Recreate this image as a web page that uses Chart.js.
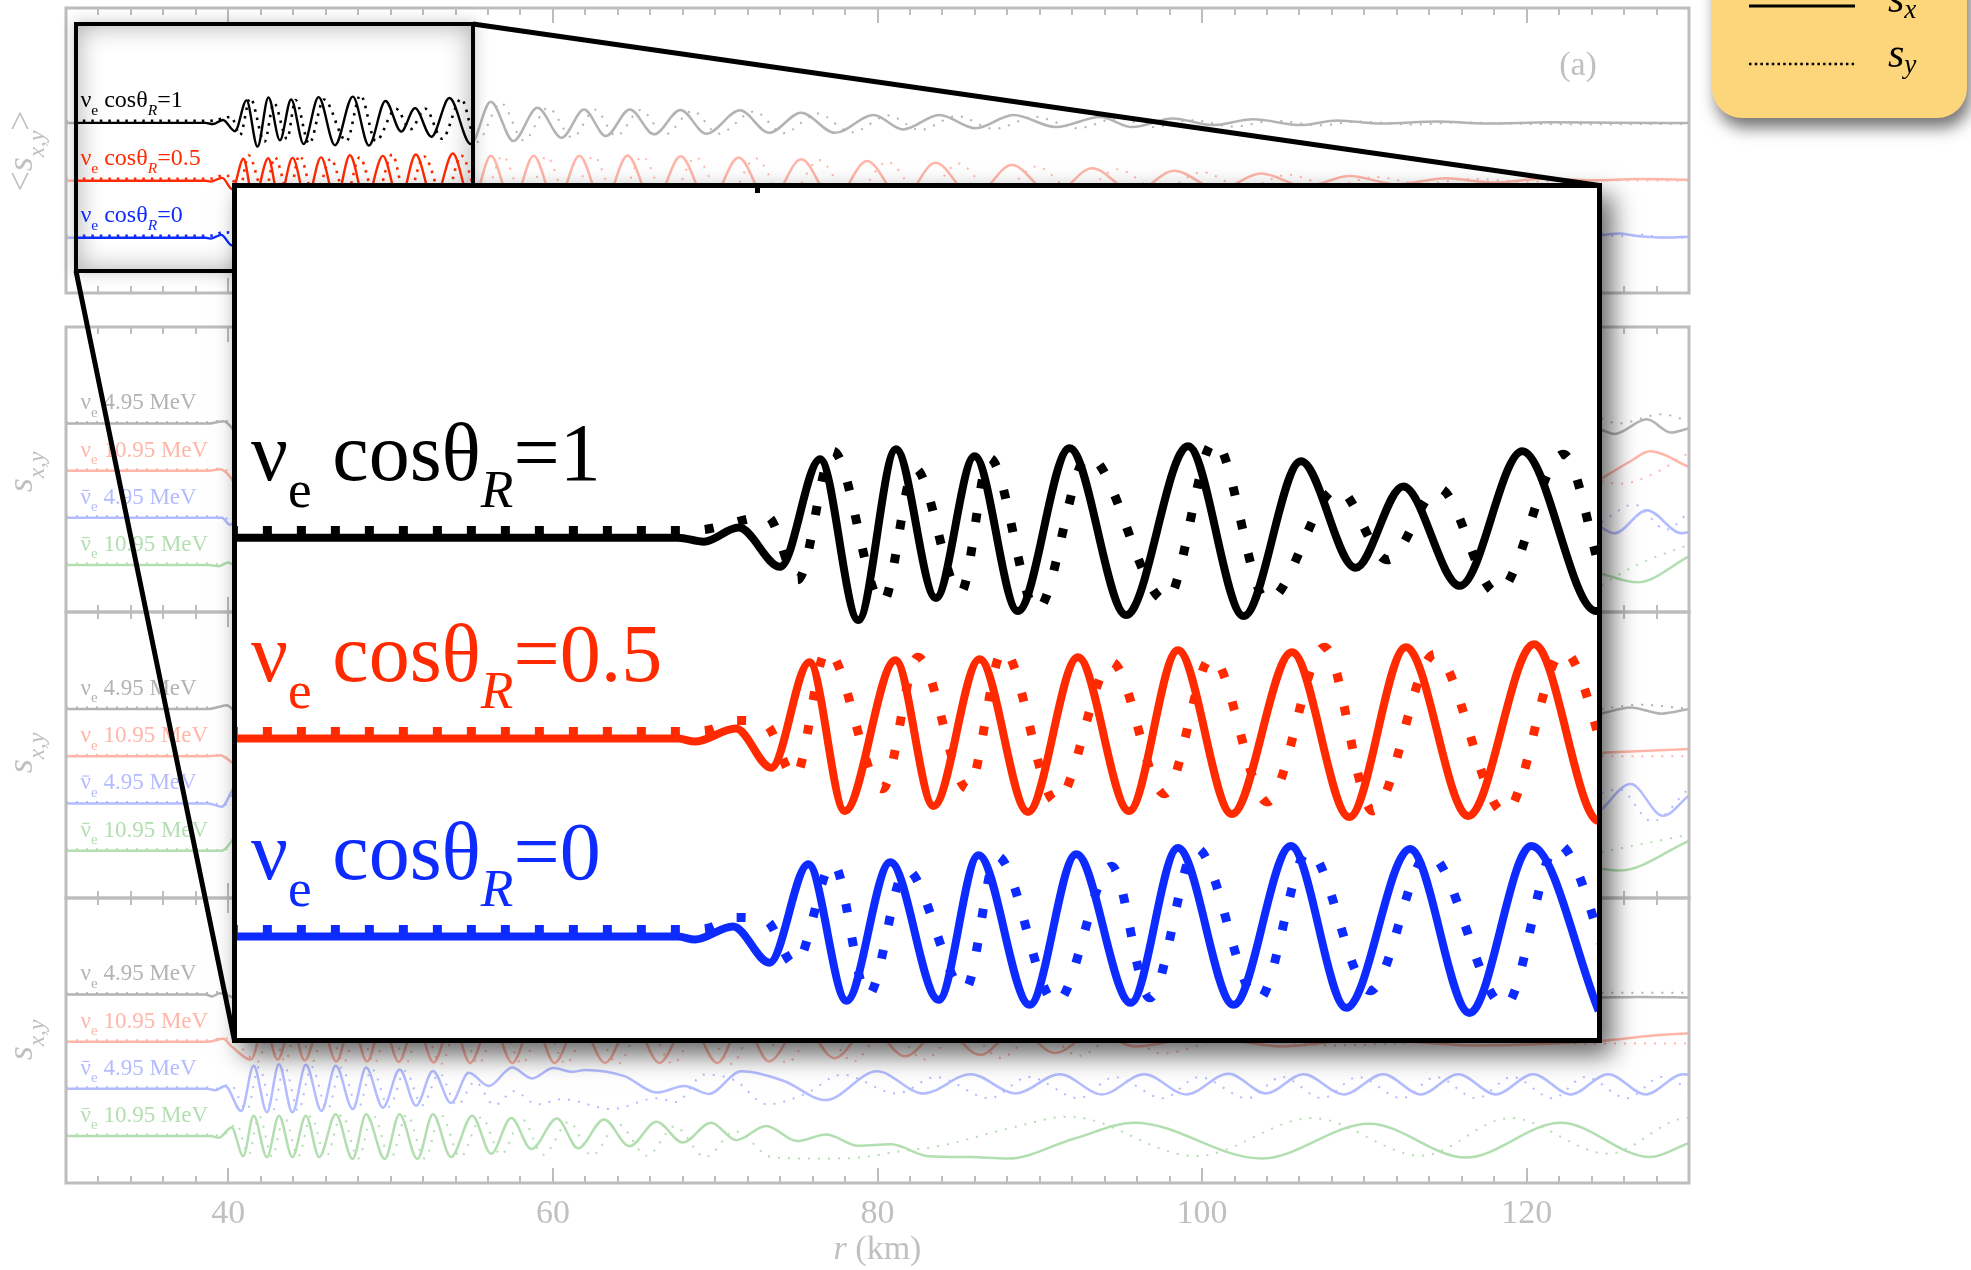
<!DOCTYPE html>
<html lang="en">
<head>
<meta charset="utf-8">
<title>Spin components along r</title>
<script src="https://cdn.jsdelivr.net/npm/chart.js@4.4.1/dist/chart.umd.min.js"></script>
<style>
  html, body { margin: 0; padding: 0; background: #fff; }
  body { position: relative; width: 1971px; height: 1270px; overflow: hidden; }
  canvas { position: absolute; left: 0; top: 0; }
  .layer { position: absolute; }
  #zoomBox { border: 4px solid #000; background: #fff; box-shadow: 0 0 14px rgba(0,0,0,0.22), inset 0 0 26px rgba(0,0,0,0.32); z-index: 2; }
  #inset { left: 232px; top: 183px; width: 1360px; height: 850px; border: 5px solid #000; background: #fff; box-shadow: 10px 12px 24px rgba(0,0,0,0.6); z-index: 4; }
  #key { left: 1712px; top: -80px; width: 255px; height: 198px; border-radius: 30px; background: #fdd57b; box-shadow: 4px 10px 16px rgba(0,0,0,0.55); z-index: 5; }
</style>
</head>
<body>
<div id="zoomBox" class="layer"></div>
<div id="inset" class="layer"></div>
<div id="key" class="layer"></div>

<script>
// ---- axes ----
const rRange = [30, 130];
const rTicks = [40, 60, 80, 100, 120];
const zoomR = [30.75, 54.96];     // r window that gets magnified
const zoomV = [-4.98, 3.48];      // its vertical window in the inset
const boxV = [-5.05, 3.35];       // the same window drawn inside panel (a)

// ---- panel (a): s_x / s_y for the three cos(theta_R) rows, pairs of [r, s] ----
const cosValues = ['1', '0.5', '0'];
const cosOffsets = [0, -2, -3.97];

const cos1Sx = [[30,0],[38.6,0],[39.06,-0.04],[39.68,0.10],[40.42,-0.29],[41.13,0.78],[41.81,-0.82],[42.48,0.88],[43.19,-0.60],[43.88,0.81],[44.65,-0.73],[45.57,0.89],[46.58,-0.77],[47.68,0.91],[48.67,-0.78],[49.69,0.76],[50.66,-0.30],[51.51,0.51],[52.52,-0.48],[53.63,0.86],[54.94,-0.73],[56.17,0.74],[57.56,-0.62],[59.05,0.53],[60.54,-0.51],[61.92,0.47],[63.26,-0.45],[64.74,0.47],[66.23,-0.39],[67.86,0.45],[69.45,-0.37],[71.53,0.44],[73.32,-0.34],[75.29,0.36],[77.38,-0.34],[79.75,0.28],[81.58,-0.22],[83.81,0.28],[86.04,-0.18],[88.37,0.28],[91.0,-0.14],[93.72,0.21],[95.7,-0.14],[98.18,0.16],[100.65,-0.07],[103.13,0.13],[106.1,-0.07],[108.33,0.09],[111.05,-0.02],[114.52,0.05],[117.49,-0.02],[121.45,0.03],[125.41,0.01],[130,0]];
const cos1Sy = [[30,0.07],[38.6,0.07],[39.06,0.08],[40.19,0.21],[40.73,-0.42],[41.36,0.86],[42.24,-0.65],[42.82,0.69],[43.63,-0.55],[44.15,0.79],[44.99,-0.72],[45.9,0.81],[47.29,-0.63],[48.15,0.96],[49.09,-0.63],[50.34,0.49],[51.23,-0.22],[52.15,0.49],[53.18,-0.55],[54.36,0.83],[55.3,-0.66],[56.8,0.70],[58.2,-0.60],[59.7,0.53],[61.2,-0.50],[62.6,0.46],[63.9,-0.45],[65.4,0.45],[66.9,-0.40],[68.6,0.42],[70.2,-0.37],[72.4,0.40],[74.2,-0.35],[76.3,0.33],[78.4,-0.32],[80.7,0.26],[82.6,-0.24],[84.9,0.24],[87.2,-0.20],[89.7,0.22],[92.3,-0.18],[94.8,0.16],[97.0,-0.14],[99.4,0.10],[101.9,-0.12],[104.5,0.08],[107.3,-0.08],[109.6,0.05],[113,-0.05],[116,0.02],[120,-0.03],[124,-0.04],[130,-0.03]];

const cos05Sx = [[30,0],[38.6,0],[38.9,-0.03],[39.63,0.10],[40.26,-0.29],[40.94,0.76],[41.57,-0.72],[42.47,0.78],[43.15,-0.67],[43.97,0.79],[44.83,-0.73],[45.72,0.81],[46.63,-0.72],[47.5,0.88],[48.46,-0.75],[49.53,0.86],[50.55,-0.78],[51.56,0.91],[52.67,-0.77],[53.84,0.94],[54.99,-0.82],[56.18,0.87],[57.5,-0.85],[58.81,0.87],[60.2,-0.85],[61.63,0.87],[63.1,-0.85],[64.6,0.88],[66.2,-0.85],[67.87,0.85],[69.6,-0.82],[71.44,0.81],[73.3,-0.78],[75.3,0.75],[77.3,-0.70],[79.36,0.69],[81.5,-0.65],[83.57,0.63],[85.9,-0.58],[88.28,0.55],[90.8,-0.50],[93.23,0.44],[95.8,-0.40],[98.28,0.35],[101.0,-0.30],[103.63,0.25],[106.4,-0.20],[109.08,0.17],[112.0,-0.12],[115.02,0.09],[118.0,-0.06],[120.97,0.07],[124.0,0.02],[126.9,0.06],[130,0.04]];
const cos05Sy = [[30,0.07],[38.6,0.07],[39.1,0.08],[39.65,0.18],[40.15,0.15],[40.68,-0.38],[41.25,0.88],[42.24,-0.50],[42.87,0.81],[43.76,-0.50],[44.39,0.88],[45.33,-0.63],[46.32,0.76],[47.26,-0.55],[48.1,0.81],[49.09,-0.63],[50.11,0.91],[50.97,-0.72],[52.07,0.84],[53.32,-0.74],[54.36,0.87],[55.6,-0.80],[56.9,0.87],[58.3,-0.82],[59.6,0.85],[61.0,-0.82],[62.5,0.86],[64.0,-0.82],[65.5,0.85],[67.1,-0.80],[68.8,0.82],[70.6,-0.78],[72.5,0.78],[74.4,-0.74],[76.4,0.72],[78.4,-0.66],[80.6,0.66],[82.8,-0.60],[85.0,0.60],[87.3,-0.54],[89.8,0.50],[92.3,-0.45],[94.8,0.40],[97.4,-0.35],[100.0,0.30],[102.6,-0.25],[105.3,0.21],[108.0,-0.17],[110.7,0.13],[113.6,-0.10],[116.5,0.07],[120.0,-0.03],[124.0,0.02],[130,0]];

const cos0Sx = [[30,0],[38.6,0],[38.9,-0.03],[39.58,0.10],[40.23,-0.26],[40.92,0.72],[41.6,-0.64],[42.38,0.74],[43.24,-0.63],[43.95,0.81],[44.86,-0.68],[45.69,0.82],[46.66,-0.66],[47.5,0.88],[48.49,-0.68],[49.51,0.90],[50.5,-0.71],[51.63,0.87],[52.69,-0.76],[53.79,0.90],[54.99,-0.74],[57,null],[124.6,0.09],[125.75,0.15],[126.55,0.08],[128.6,0.01],[130,0.04]];
const cos0Sy = [[30,0.07],[38.6,0.07],[39.1,0.08],[39.63,0.19],[40.15,0.17],[40.68,-0.28],[41.36,0.73],[41.98,-0.59],[42.66,0.67],[43.71,-0.53],[44.28,0.80],[45.33,-0.66],[46.32,0.70],[47.0,-0.61],[47.83,0.88],[48.93,-0.63],[49.82,0.85],[50.92,-0.54],[51.96,0.82],[53.32,-0.69],[54.26,0.92],[55.3,-0.50],[57,null],[124.6,0.13],[125.6,0.05],[126.9,0.12],[128.5,0.0],[130,0.02]];

// ---- panels (b)-(d): four species each ----
const energyLabels = ['4.95', '10.95', '4.95', '10.95'];
const antiFlags = [false, false, true, true];
const speciesOffsets = [0, -1, -2, -3];

const bNue5Sx  = [[30,0],[38.8,0],[39.3,0.03],[39.7,0.05],[40.2,-0.08],[40.6,-0.30],[41,null],[124.6,-0.13],[125.4,-0.22],[127.4,0.09],[128.9,-0.19],[130,-0.10]];
const bNue5Sy  = [[30,0.03],[38.8,0.03],[39.6,0.06],[40.3,0.0],[40.7,-0.20],[41,null],[124.6,0.11],[125.65,0.0],[128.3,0.20],[130,0.05]];
const bNue11Sx = [[30,0],[38.8,0],[39.5,0.03],[40.1,-0.12],[40.5,-0.35],[41,null],[124.6,-0.17],[126.4,0.20],[127.6,0.41],[130,0.08]];
const bNue11Sy = [[30,0.03],[38.8,0.03],[39.6,0.05],[40.2,-0.10],[40.6,-0.30],[41,null],[124.6,-0.23],[125.8,-0.28],[127.6,-0.10],[130,0.38]];
const bBar5Sx  = [[30,0],[38.8,0],[39.6,0.0],[40.1,-0.15],[40.6,0.05],[41,null],[124.6,-0.21],[125.4,-0.33],[127.4,0.16],[129.55,-0.33],[130,-0.30]];
const bBar5Sy  = [[30,0.03],[38.8,0.03],[39.7,0.02],[40.3,-0.12],[40.7,0.10],[41,null],[124.6,-0.09],[126.6,0.28],[128.6,-0.25],[130,0.12]];
const bBar11Sx = [[30,0],[38.8,0],[39.4,-0.03],[40.0,0.05],[40.5,-0.05],[41,null],[124.6,-0.19],[126.8,-0.37],[130,0.18]];
const bBar11Sy = [[30,0.03],[38.8,0.03],[39.6,0.0],[40.2,0.08],[40.6,-0.05],[41,null],[124.6,-0.43],[126.8,0.0],[130,0.43]];

const cNue5Sx  = [[30,0],[38.8,0],[39.4,0.04],[39.9,0.08],[40.4,-0.05],[41,null],[124.6,-0.10],[126.4,0.03],[128.3,-0.10],[130,0.0]];
const cNue5Sy  = [[30,0.03],[38.8,0.03],[39.6,0.06],[40.3,0.10],[41,null],[124.6,0.0],[127.0,0.09],[130,0.0]];
const cNue11Sx = [[30,0],[38.8,0],[39.5,0.02],[40.1,-0.10],[40.5,-0.20],[41,null],[124.6,0.07],[130,0.15]];
const cNue11Sy = [[30,0.03],[38.8,0.03],[39.7,0.0],[40.3,-0.10],[41,null],[124.6,0.0],[130,0.0]];
const cBar5Sx  = [[30,0],[38.8,0],[39.6,-0.07],[40.2,0.25],[40.6,0.50],[41,null],[124.6,-0.13],[126.4,0.41],[128.4,-0.26],[130,0.17]];
const cBar5Sy  = [[30,0.03],[38.8,0.03],[39.7,-0.05],[40.4,0.30],[41,null],[124.6,0.23],[125.7,0.30],[127.7,-0.38],[130,0.32]];
const cBar11Sx = [[30,0],[38.8,0],[39.6,0.0],[40.2,0.20],[40.6,0.40],[41,null],[124.6,-0.38],[125.7,-0.42],[130,0.21]];
const cBar11Sy = [[30,0.03],[38.8,0.03],[39.7,0.0],[40.4,0.25],[41,null],[124.6,-0.03],[130,0.34]];

const dNue5Sx  = [[30,0],[38.6,0],[39.0,-0.04],[39.5,0.03],[40.0,-0.02],[40.5,-0.10],[41,null],[124.6,-0.06],[127,-0.05],[130,-0.06]];
const dNue5Sy  = [[30,0.03],[38.6,0.03],[39.6,0.06],[40.2,0.0],[41,null],[124.6,0.04],[130,0.04]];
const dNue11Sx = [[30,0],[38.8,0],[39.68,0.06],[40.2,-0.10],[41.4,-0.38],[42.2,0.38],[43.05,-0.38],[43.9,0.38],[44.7,-0.40],[45.7,0.40],[46.65,-0.42],[47.6,0.42],[48.55,-0.42],[49.5,0.42],[50.5,-0.43],[51.55,0.43],[52.65,-0.44],[53.8,0.44],[54.9,-0.45],[56.2,0.45],[57.5,-0.45],[58.8,0.45],[60.1,-0.45],[61.6,0.45],[63.21,-0.45],[64.9,0.45],[66.56,-0.45],[68.35,0.45],[70.14,-0.45],[71.7,0.42],[73.32,-0.42],[75.3,0.38],[77.36,-0.35],[79.5,0.32],[81.69,-0.31],[84.0,0.28],[86.32,-0.28],[88.6,0.26],[90.94,-0.24],[93.4,0.20],[95.85,-0.10],[100,0.10],[105,-0.10],[110,0.05],[117,-0.08],[124.6,0.02],[127.5,0.12],[130,0.18]];
const dNue11Sy = [[30,0.03],[38.8,0.03],[39.6,0.08],[40.4,0.0],[41.85,-0.42],[42.6,0.40],[43.5,-0.42],[44.3,0.40],[45.15,-0.44],[46.1,0.42],[47.1,-0.45],[48.0,0.42],[49.0,-0.46],[49.9,0.42],[50.95,-0.46],[51.9,0.42],[53.1,-0.47],[54.2,0.44],[55.4,-0.47],[56.7,0.45],[58.1,-0.47],[59.4,0.45],[60.8,-0.47],[62.3,0.45],[64.0,-0.47],[65.6,0.45],[67.4,-0.47],[69.1,0.44],[71.0,-0.47],[72.6,0.42],[74.4,-0.45],[76.4,0.38],[78.5,-0.42],[80.6,0.34],[82.9,-0.38],[85.2,0.30],[87.6,-0.34],[90.0,0.26],[92.4,-0.30],[95,0.20],[97.5,-0.25],[102,0.10],[108,-0.08],[115,0.0],[124.6,-0.04],[130,-0.04]];
const dBar5Sx  = [[30,0],[38.7,0],[39.2,-0.03],[39.8,0.06],[40.8,-0.47],[41.56,0.49],[42.38,-0.50],[43.12,0.52],[43.95,-0.50],[44.78,0.51],[45.74,-0.47],[46.62,0.49],[47.67,-0.43],[48.49,0.45],[49.53,-0.40],[50.56,0.41],[51.57,-0.36],[52.61,0.38],[53.72,-0.30],[54.82,0.34],[56.05,0.06],[57.5,0.45],[58.7,0.22],[60.03,0.44],[61.2,0.36],[62.0,0.40],[64.4,0.27],[66.4,-0.08],[68.1,0.06],[69.6,-0.11],[71.6,0.37],[74.2,0.17],[76.8,-0.24],[79.96,0.37],[82.85,-0.10],[85.74,0.31],[88.51,-0.10],[91.23,0.31],[93.83,-0.12],[96.43,0.31],[99.03,-0.12],[101.63,0.32],[103.94,-0.10],[106.25,0.31],[108.73,-0.12],[111.16,0.31],[113.47,-0.12],[115.78,0.31],[118.09,-0.12],[120.4,0.31],[122.71,-0.12],[125.02,0.31],[127.33,-0.12],[129.64,0.31],[130,0.30]];
const dBar5Sy  = [[30,0.03],[38.7,0.03],[39.4,0.0],[40.1,0.10],[41.15,-0.45],[41.9,0.46],[42.73,-0.47],[43.47,0.48],[44.3,-0.47],[45.13,0.47],[46.1,-0.44],[46.97,0.45],[48.0,-0.41],[48.85,0.42],[49.9,-0.38],[50.9,0.38],[51.95,-0.35],[53.0,0.33],[54.1,-0.35],[55.2,0.15],[56.4,-0.35],[57.6,-0.05],[59.0,-0.33],[60.6,-0.22],[63.6,-0.43],[66.4,-0.20],[67.6,-0.28],[69.3,0.30],[71.2,0.18],[73.2,-0.33],[75.6,-0.10],[77.8,0.30],[81.2,-0.10],[83.6,0.25],[86.9,-0.20],[89.3,0.25],[92.4,-0.20],[94.6,0.25],[97.6,-0.20],[99.8,0.25],[102.8,-0.20],[104.9,0.25],[107.4,-0.20],[109.6,0.25],[112.3,-0.20],[114.4,0.25],[116.9,-0.20],[119.1,0.25],[121.6,-0.20],[123.6,0.25],[126.2,-0.20],[128.3,0.25],[130,0.0]];
const dBar11Sx = [[30,0],[38.9,0],[39.41,-0.04],[40.2,0.18],[40.92,-0.43],[41.56,0.43],[42.38,-0.45],[43.12,0.43],[43.95,-0.45],[44.78,0.43],[45.6,-0.45],[46.62,0.46],[47.66,-0.49],[48.49,0.46],[49.64,-0.49],[50.55,0.46],[51.65,-0.49],[52.61,0.46],[53.72,-0.45],[55.03,0.43],[56.19,-0.38],[57.43,0.38],[58.67,-0.28],[60.25,0.37],[61.55,-0.26],[63.15,0.35],[64.72,-0.22],[66.38,0.30],[68.0,-0.14],[69.74,0.28],[71.3,-0.09],[73.14,0.21],[75.05,-0.11],[76.84,0.03],[78.81,-0.21],[80.83,-0.18],[83.14,-0.43],[85.74,-0.45],[88.05,-0.48],[92.1,-0.06],[95.85,0.28],[103.65,-0.48],[110.3,0.26],[116.25,-0.46],[122.1,0.28],[127.6,-0.45],[130,-0.15]];
const dBar11Sy = [[30,0.03],[38.9,0.03],[39.6,0.0],[40.5,0.25],[41.25,-0.40],[41.9,0.42],[42.7,-0.44],[43.45,0.42],[44.3,-0.44],[45.1,0.42],[46.0,-0.45],[47.0,0.45],[48.0,-0.48],[48.9,0.45],[50.0,-0.48],[51.0,0.45],[52.1,-0.48],[53.1,0.44],[54.3,-0.45],[55.6,0.40],[56.8,-0.40],[58.1,0.35],[59.4,-0.40],[61.0,0.30],[62.4,-0.42],[64.0,0.25],[65.8,-0.42],[67.5,0.20],[69.4,-0.45],[71.2,0.10],[73.5,-0.45],[75.9,-0.48],[78.5,-0.47],[81.0,-0.35],[84.0,-0.20],[88.0,0.15],[91.8,0.41],[99.6,-0.43],[106.8,0.38],[113.5,-0.42],[119.0,0.38],[125.0,-0.38],[129.9,0.38],[130,0.38]];

const lowerPanels = [
  [[bNue5Sx, bNue5Sy], [bNue11Sx, bNue11Sy], [bBar5Sx, bBar5Sy], [bBar11Sx, bBar11Sy]],
  [[cNue5Sx, cNue5Sy], [cNue11Sx, cNue11Sy], [cBar5Sx, cBar5Sy], [cBar11Sx, cBar11Sy]],
  [[dNue5Sx, dNue5Sy], [dNue11Sx, dNue11Sy], [dBar5Sx, dBar5Sy], [dBar11Sx, dBar11Sy]]
];
const cosRows = [[cos1Sx, cos1Sy], [cos05Sx, cos05Sy], [cos0Sx, cos0Sy]];

// ---- look ----
const FONT = '"Liberation Serif", "Times New Roman", serif';
const axisGray = '#bdbdbd';
const textGray = '#c0c0c0';
const strong = ['#000000', '#ff2a00', '#0d2bff'];
const pale = ['#b3b3b3', '#ffb6a8', '#b3bcff', '#b2deb0'];

function partFont(p, size) {
  return (p.it ? 'italic ' : '') + (p.sub ? size * 0.65 : size) + 'px ' + FONT;
}
function richWidth(ctx, parts, size) {
  let w = 0;
  parts.forEach(p => { ctx.font = partFont(p, size); w += ctx.measureText(p.t).width; });
  return w;
}
function drawRich(ctx, parts, x, y, size, color) {
  ctx.save();
  ctx.fillStyle = color;
  ctx.textBaseline = 'alphabetic';
  ctx.textAlign = 'left';
  let cx = x;
  parts.forEach(p => {
    ctx.font = partFont(p, size);
    const w = ctx.measureText(p.t).width;
    const drop = p.sub ? size * (p.drop != null ? p.drop : 0.33) : 0;
    ctx.fillText(p.t, cx, y + drop);
    if (p.bar) ctx.fillRect(cx + w * 0.15, y - size * 0.6, w * 0.7, Math.max(1, size * 0.05));
    cx += w;
  });
  ctx.restore();
}
function drawVertical(ctx, parts, cx, cy, size, color) {
  ctx.save();
  ctx.translate(cx, cy);
  ctx.rotate(-Math.PI / 2);
  drawRich(ctx, parts, -richWidth(ctx, parts, size) / 2, 0, size, color);
  ctx.restore();
}

const cosLabel = v => [{ t: 'ν' }, { t: 'e', sub: true }, { t: ' cosθ' }, { t: 'R', sub: true, it: true }, { t: '=' + v }];
const energyLabel = (e, anti) => [{ t: 'ν', bar: anti }, { t: 'e', sub: true }, { t: ' ' + e + ' MeV' }];
const sxyParts = [{ t: 's', it: true }, { t: 'x,y', sub: true, it: true }];

function toPoints(pairs, offset) {
  return pairs.map(([r, s]) => ({ x: r, y: s === null ? null : s + offset }));
}
function lineSet(pairs, offset, color, w, dash) {
  return {
    data: toPoints(pairs, offset),
    borderColor: color,
    borderWidth: w,
    borderDash: dash || [],
    pointRadius: 0,
    cubicInterpolationMode: 'monotone',
    fill: false,
    spanGaps: false,
    clip: 0
  };
}

// frame and inward ticks every 2 km
function frameTicks() {
  return {
    id: 'frameTicks',
    afterDatasetsDraw(chart) {
      const { ctx, chartArea: a, scales: { x } } = chart;
      ctx.save();
      ctx.strokeStyle = axisGray;
      ctx.lineWidth = 2;
      ctx.beginPath();
      for (let r = rRange[0] + 2; r < rRange[1]; r += 2) {
        const px = Math.round(x.getPixelForValue(r));
        const len = r % 20 === 0 ? 15 : 7;
        ctx.moveTo(px, a.top); ctx.lineTo(px, a.top + len);
        ctx.moveTo(px, a.bottom); ctx.lineTo(px, a.bottom - len);
      }
      ctx.stroke();
      ctx.lineWidth = 3;
      ctx.strokeRect(a.left, a.top, a.right - a.left, a.bottom - a.top);
      ctx.restore();
    }
  };
}
function rowLabels(rows, size) {
  return {
    id: 'rowLabels',
    afterDatasetsDraw(chart) {
      const { ctx, scales: { x, y } } = chart;
      rows.forEach(row => drawRich(ctx, row.parts, x.getPixelForValue(row.r), y.getPixelForValue(row.v), size, row.color));
    }
  };
}
function extras(fn) {
  return { id: 'extras', afterDatasetsDraw: fn };
}

function makeCanvas(parent, left, top, w, h, z) {
  const c = document.createElement('canvas');
  c.width = w; c.height = h;
  c.style.left = left + 'px'; c.style.top = top + 'px';
  c.style.width = w + 'px'; c.style.height = h + 'px';
  if (z) c.style.zIndex = z;
  parent.appendChild(c);
  return c;
}
function makeChart(canvas, datasets, xWin, yWin, pad, plugins) {
  return new Chart(canvas, {
    type: 'line',
    data: { datasets },
    options: {
      responsive: false,
      animation: false,
      devicePixelRatio: 1,
      events: [],
      layout: { padding: pad },
      plugins: { legend: { display: false }, tooltip: { enabled: false } },
      scales: {
        x: { type: 'linear', min: xWin[0], max: xWin[1], display: false },
        y: { type: 'linear', min: yWin[0], max: yWin[1], display: false }
      }
    },
    plugins
  });
}

const PAGE_W = 1700;
const padX = { left: 66, right: PAGE_W - 1689 };

// ---- panel (a) ----
const aTop = 8, aBottom = 293;
const aCanvas = makeCanvas(document.body, 0, aTop - 6, PAGE_W, aBottom - aTop + 12, 1);
const aSets = [];
cosRows.forEach(([sx, sy], i) => {
  aSets.push(lineSet(sx, cosOffsets[i], pale[i], 2.5));
  aSets.push(lineSet(sy, cosOffsets[i], pale[i], 2, [2, 8]));
});
const aChart = makeChart(aCanvas, aSets, rRange, [-5.88, 3.98], { ...padX, top: 6, bottom: 6 }, [
  frameTicks(),
  extras(chart => {
    const ctx = chart.ctx;
    drawVertical(ctx, [{ t: '<' }, ...sxyParts, { t: '>' }], 32, 151 - (aTop - 6), 36, textGray);
    ctx.save();
    ctx.font = '34px ' + FONT;
    ctx.fillStyle = textGray;
    ctx.textAlign = 'center';
    ctx.fillText('(a)', 1578, 75 - (aTop - 6));
    ctx.restore();
  })
]);

// ---- panels (b), (c), (d) ----
const panelTops = [327, 612, 898];
const panelBottoms = [612, 898, 1183];
const titleCenters = [472, 753, 1040];
lowerPanels.forEach((species, p) => {
  const top = panelTops[p], h = panelBottoms[p] - top;
  const last = p === lowerPanels.length - 1;
  const extraBottom = last ? 100 : 0;
  const cv = makeCanvas(document.body, 0, top - 6, PAGE_W, h + 12 + extraBottom, 1);
  const sets = [];
  species.forEach(([sx, sy], k) => {
    sets.push(lineSet(sx, speciesOffsets[k], pale[k], 2.5));
    sets.push(lineSet(sy, speciesOffsets[k], pale[k], 2, [2, 8]));
  });
  const labels = energyLabels.map((e, k) => ({ parts: energyLabel(e, antiFlags[k]), r: 30.9, v: speciesOffsets[k] + 0.3, color: pale[k] }));
  makeChart(cv, sets, rRange, [-4.0, 2.05], { ...padX, top: 6, bottom: 6 + extraBottom }, [
    frameTicks(),
    rowLabels(labels, 23),
    extras(chart => {
      const ctx = chart.ctx;
      drawVertical(ctx, sxyParts, 32, titleCenters[p] - (top - 6), 36, textGray);
      if (!last) return;
      const x = chart.scales.x;
      const shift = top - 6;
      ctx.save();
      ctx.font = '34px ' + FONT;
      ctx.fillStyle = textGray;
      ctx.textAlign = 'center';
      rTicks.forEach(r => ctx.fillText(String(r), x.getPixelForValue(r), 1223 - shift));
      ctx.restore();
      const title = [{ t: 'r', it: true }, { t: ' (km)' }];
      const w = richWidth(ctx, title, 34);
      drawRich(ctx, title, x.getPixelForValue(80) - w / 2, 1259 - shift, 34, textGray);
    })
  ]);
});

// ---- magnified window drawn inside panel (a) ----
const ax = aChart.scales.x, ay = aChart.scales.y;
const bx0 = Math.round(ax.getPixelForValue(zoomR[0]));
const bx1 = Math.round(ax.getPixelForValue(zoomR[1]));
const by0 = Math.round(ay.getPixelForValue(boxV[1]) + aTop - 6);
const by1 = Math.round(ay.getPixelForValue(boxV[0]) + aTop - 6);
const box = document.getElementById('zoomBox');
box.style.left = (bx0 - 4) + 'px';
box.style.top = (by0 - 4) + 'px';
box.style.width = (bx1 - bx0) + 'px';
box.style.height = (by1 - by0) + 'px';
const boxCanvas = makeCanvas(box, 0, 0, bx1 - bx0, by1 - by0);
const boxSets = [];
cosRows.forEach(([sx, sy], i) => {
  boxSets.push(lineSet(sx, cosOffsets[i], strong[i], 2.4));
  boxSets.push(lineSet(sy, cosOffsets[i], strong[i], 2.6, [2.5, 6]));
});
makeChart(boxCanvas, boxSets, zoomR, boxV, 0, [
  rowLabels(cosValues.map((v, i) => ({ parts: cosLabel(v), r: 30.9, v: cosOffsets[i] + 0.54, color: strong[i] })), 24)
]);

// ---- inset ----
const insetEl = document.getElementById('inset');
const insetCanvas = makeCanvas(insetEl, 0, 0, 1360, 850);
const insetSets = [];
cosRows.forEach(([sx, sy], i) => {
  insetSets.push(lineSet(sx, cosOffsets[i], strong[i], 8));
  insetSets.push(lineSet(sy, cosOffsets[i], strong[i], 9, [9, 25]));
});
makeChart(insetCanvas, insetSets, zoomR, zoomV, 0, [
  rowLabels(cosValues.map((v, i) => ({ parts: cosLabel(v), r: 31.0, v: cosOffsets[i] + 0.57, color: strong[i] })), 82),
  extras(chart => {
    const { ctx, chartArea: a, scales: { x } } = chart;
    ctx.save();
    ctx.fillStyle = '#000';
    ctx.fillRect(Math.round(x.getPixelForValue(40)) - 2, a.top, 5, 5);
    ctx.restore();
  })
]);

// ---- lines joining the window to the inset ----
const links = makeCanvas(document.body, 0, 0, 1971, 1270, 3);
const lctx = links.getContext('2d');
lctx.strokeStyle = '#000';
lctx.lineWidth = 5;
lctx.beginPath();
lctx.moveTo(bx1 + 2, by0 - 2); lctx.lineTo(1599.5, 185.5);
lctx.moveTo(bx0 - 2, by1 + 2); lctx.lineTo(234.5, 1040.5);
lctx.stroke();

// ---- key ----
const keyCanvas = makeCanvas(document.getElementById('key'), 0, 0, 255, 198);
const kctx = keyCanvas.getContext('2d');
kctx.strokeStyle = '#000';
kctx.lineWidth = 3;
kctx.beginPath(); kctx.moveTo(37, 86); kctx.lineTo(143, 86); kctx.stroke();
kctx.lineWidth = 2.5;
kctx.setLineDash([2.5, 3.2]);
kctx.beginPath(); kctx.moveTo(37, 144); kctx.lineTo(143, 144); kctx.stroke();
kctx.setLineDash([]);
drawRich(kctx, [{ t: 's', it: true }, { t: 'x', sub: true, it: true, drop: 0.15 }], 176, 92, 42, '#000');
drawRich(kctx, [{ t: 's', it: true }, { t: 'y', sub: true, it: true, drop: 0.15 }], 176, 147, 42, '#000');
</script>
</body>
</html>
